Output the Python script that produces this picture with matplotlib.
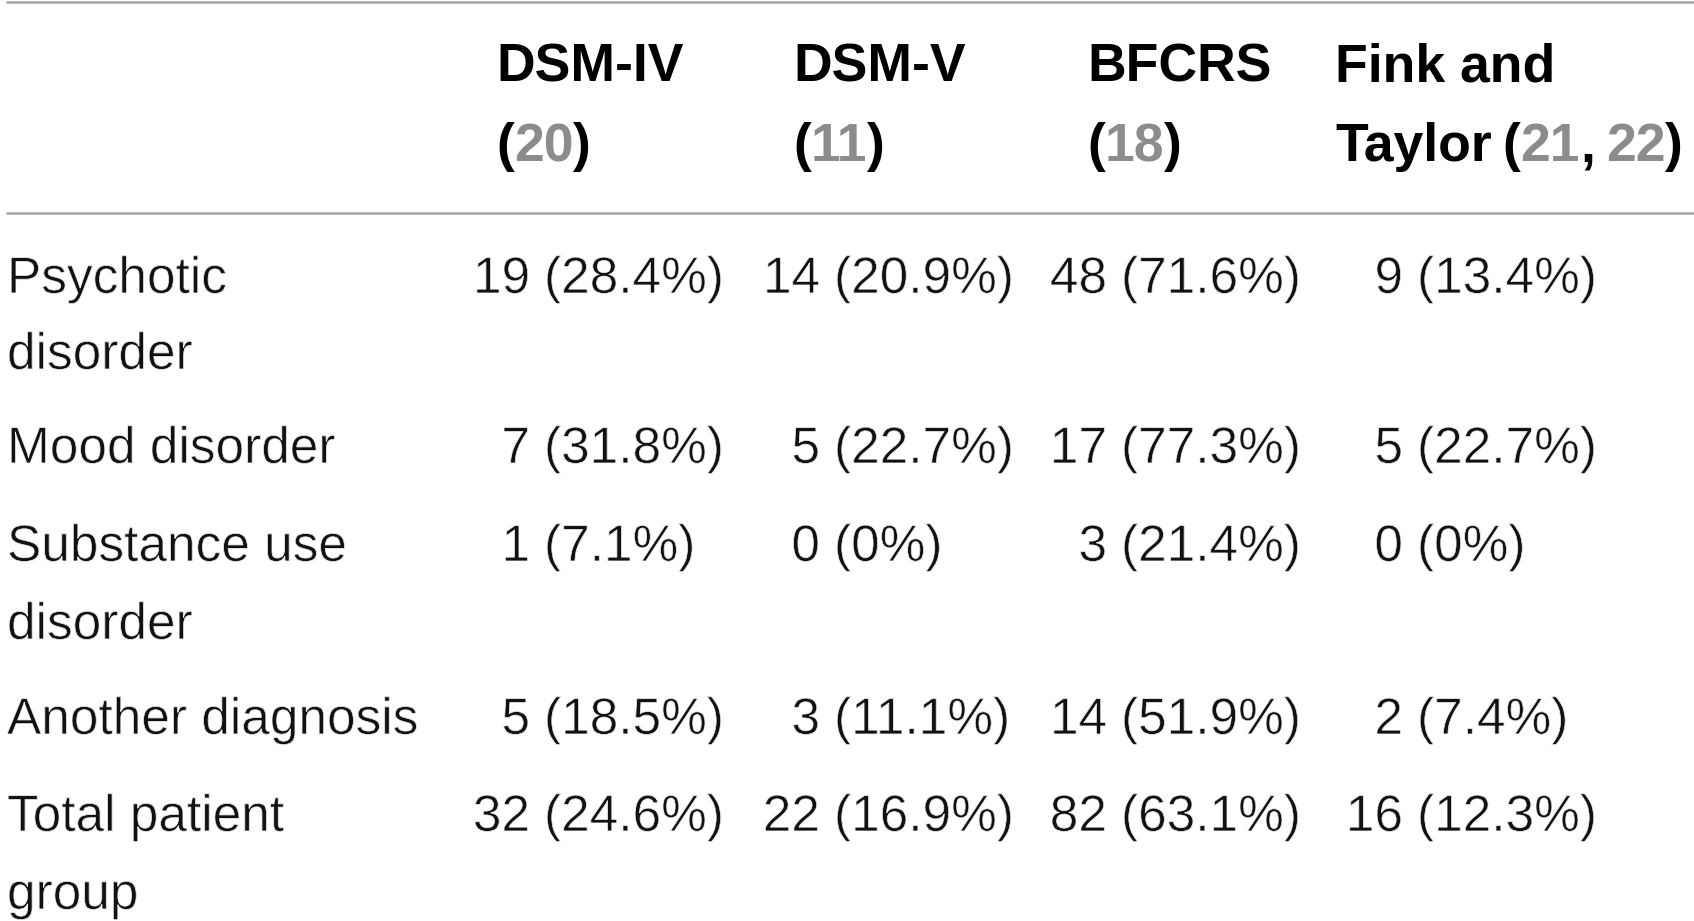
import matplotlib
matplotlib.use("Agg")
from matplotlib import pyplot as plt
from matplotlib import patheffects as pe

# table content
header_top = ["DSM-IV", "DSM-V", "BFCRS", "Fink and"]
header_prefix = ["", "", "", "Taylor"]
header_refs = [[20], [11], [18], [21, 22]]

row_labels = [["Psychotic", "disorder"],
              ["Mood disorder"],
              ["Substance use", "disorder"],
              ["Another diagnosis"],
              ["Total patient", "group"]]

counts = [[19, 7, 1, 5, 32],
          [14, 5, 0, 3, 22],
          [48, 17, 3, 14, 82],
          [9, 5, 0, 2, 16]]
percents = [[28.4, 31.8, 7.1, 18.5, 24.6],
            [20.9, 22.7, 0, 11.1, 16.9],
            [71.6, 77.3, 21.4, 51.9, 63.1],
            [13.4, 22.7, 0, 7.4, 12.3]]

# layout in pixels of the 1694x921 image
W, H = 1694, 921
head_x = [496, 793, 1087, 1335]
head_y = [82, 161]
count_right = [530, 820, 1107, 1403]
row_y = [[293, 369], [463], [561, 639], [734], [831, 909]]
label_x = 7
gap = 14
# thin the regular face a little so it reads like a light weight
thin = [pe.Normal(), pe.Stroke(linewidth=0.55, foreground="white")]
body_font = dict(family="Liberation Sans", fontsize=37, color="#111111",
                 path_effects=thin)
head_font = dict(family="Liberation Sans", fontweight="bold", fontsize=38.5)
ref_color = "#8c8c8c"
rule_color = "#a3a3a3"

fig = plt.figure(figsize=(W / 100, H / 100), dpi=100)
ax = fig.add_axes([0, 0, 1, 1])
ax.set_xlim(0, W)
ax.set_ylim(H, 0)
ax.axis("off")

ax.plot([6, W], [2, 2], color=rule_color, lw=1.8, solid_capstyle="butt")
ax.plot([6, W], [213, 213], color=rule_color, lw=1.8, solid_capstyle="butt")

renderer = fig.canvas.get_renderer()
inv = ax.transData.inverted()


def put(x, y, s, **kw):
    # place a piece of text and return the x where it ends
    t = ax.text(x, y, s, va="baseline", ha="left", **kw)
    bb = t.get_window_extent(renderer)
    return inv.transform((bb.x1, bb.y0))[0]


for i in range(len(header_top)):
    put(head_x[i], head_y[0], header_top[i], color="black", **head_font)
    x = head_x[i]
    if header_prefix[i]:
        x = put(x, head_y[1], header_prefix[i], color="black", **head_font)
        x += 11
    x = put(x, head_y[1], "(", color="black", **head_font)
    for k, r in enumerate(header_refs[i]):
        if k > 0:
            x = put(x, head_y[1], ",", color="black", **head_font)
            x += 11
        x = put(x, head_y[1], str(r), color=ref_color, **head_font)
    put(x, head_y[1], ")", color="black", **head_font)

for j, lines in enumerate(row_labels):
    for line, y in zip(lines, row_y[j]):
        ax.text(label_x, y, line, va="baseline", ha="left", **body_font)
    y = row_y[j][0]
    for i in range(len(counts)):
        ax.text(count_right[i], y, str(counts[i][j]), va="baseline", ha="right", **body_font)
        ax.text(count_right[i] + gap, y, "(%g%%)" % percents[i][j], va="baseline", ha="left", **body_font)

fig.savefig("out.png", dpi=100, facecolor="white")
